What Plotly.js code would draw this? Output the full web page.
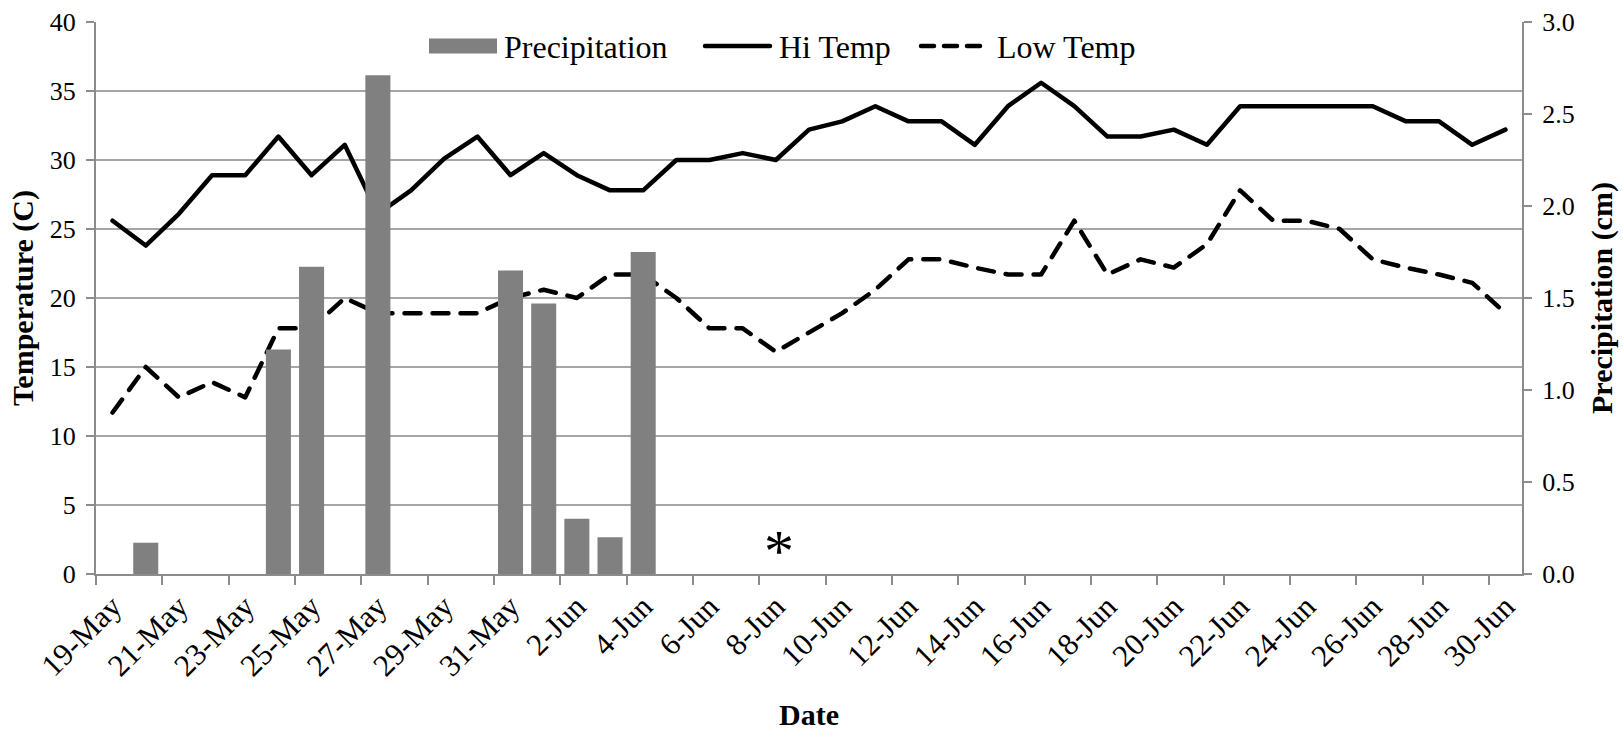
<!DOCTYPE html>
<html>
<head>
<meta charset="utf-8">
<script src="https://cdn.plot.ly/plotly-3.0.1.min.js"></script>
<style>
  html, body { margin: 0; padding: 0; background: #ffffff; }
  #chart { width: 1623px; height: 731px; }
  /* rounded dash ends on the temperature lines and key lines */
  #chart .scatterlayer path.js-line,
  #chart .shapelayer path { stroke-linecap: round; stroke-linejoin: round; }
</style>
</head>
<body>
<div id="chart"></div>
<script>
// Daily weather record, 19 May - 30 June
const dates = [
  '19-May', '20-May', '21-May', '22-May', '23-May', '24-May', '25-May',
  '26-May', '27-May', '28-May', '29-May', '30-May', '31-May',
  '1-Jun', '2-Jun', '3-Jun', '4-Jun', '5-Jun', '6-Jun', '7-Jun', '8-Jun',
  '9-Jun', '10-Jun', '11-Jun', '12-Jun', '13-Jun', '14-Jun', '15-Jun',
  '16-Jun', '17-Jun', '18-Jun', '19-Jun', '20-Jun', '21-Jun', '22-Jun',
  '23-Jun', '24-Jun', '25-Jun', '26-Jun', '27-Jun', '28-Jun', '29-Jun', '30-Jun'
];

// Daily maximum temperature (C)
const hiTemp = [
  25.6, 23.8, 26.1, 28.9, 28.9, 31.7, 28.9, 31.1, 26.1, 27.8, 30.1, 31.7, 28.9,
  30.5, 28.9, 27.8, 27.8, 30.0, 30.0, 30.5, 30.0, 32.2, 32.8, 33.9, 32.8, 32.8,
  31.1, 33.9, 35.6, 33.9, 31.7, 31.7, 32.2, 31.1, 33.9, 33.9, 33.9, 33.9, 33.9,
  32.8, 32.8, 31.1, 32.2
];

// Daily minimum temperature (C)
const lowTemp = [
  11.7, 15.0, 12.8, 13.9, 12.8, 17.8, 17.8, 20.0, 18.9, 18.9, 18.9, 18.9, 20.0,
  20.6, 20.0, 21.7, 21.7, 20.0, 17.8, 17.8, 16.1, 17.5, 18.9, 20.6, 22.8, 22.8,
  22.2, 21.7, 21.7, 25.6, 21.7, 22.8, 22.2, 23.9, 27.8, 25.6, 25.6, 25.0, 22.8,
  22.2, 21.7, 21.1, 18.9
];

// Daily precipitation (cm)
const precip = [
  0, 0.17, 0, 0, 0, 1.22, 1.67, 0, 2.71, 0, 0, 0, 1.65,
  1.47, 0.30, 0.20, 1.75, 0, 0, 0, 0, 0, 0, 0, 0, 0,
  0, 0, 0, 0, 0, 0, 0, 0, 0, 0, 0, 0, 0,
  0, 0, 0, 0
];

// Series names shown in the key
const seriesNames = ['Precipitation', 'Hi Temp', 'Low Temp'];

// Marked event
const markDate = '8-Jun';
const markText = '*';

const serif = "'Liberation Serif', 'Times New Roman', serif";
const axisGrey = '#8c8c8c';
const barGrey = '#808080';

const W = 1623, H = 731;
const M = { l: 96, r: 101, t: 22, b: 157 };
const plotW = W - M.l - M.r;
const plotH = H - M.t - M.b;
// pixel position -> paper fraction (for the key above the lines)
const px = v => (v - M.l) / plotW;
const py = v => (H - M.b - v) / plotH;

const traces = [
  {
    type: 'bar',
    name: seriesNames[0],
    x: dates,
    y: precip,
    yaxis: 'y2',
    marker: { color: barGrey, line: { width: 0 } },
    showlegend: false
  },
  {
    type: 'scatter',
    mode: 'lines',
    name: seriesNames[1],
    x: dates,
    y: hiTemp,
    line: { color: '#000000', width: 4.5 },
    showlegend: false
  },
  {
    type: 'scatter',
    mode: 'lines',
    name: seriesNames[2],
    x: dates,
    y: lowTemp,
    line: { color: '#000000', width: 4.5, dash: '16px,12px' },
    showlegend: false
  }
];

// Key: swatches as shapes, names as text
const keyY = 46;
const keyShapes = [
  { type: 'rect', xref: 'paper', yref: 'paper',
    x0: px(429), x1: px(497), y0: py(38.5), y1: py(53.5),
    fillcolor: barGrey, line: { width: 0 } },
  { type: 'line', xref: 'paper', yref: 'paper',
    x0: px(705), x1: px(770), y0: py(keyY), y1: py(keyY),
    line: { color: '#000000', width: 4.5 } },
  { type: 'line', xref: 'paper', yref: 'paper',
    x0: px(921), x1: px(982), y0: py(keyY), y1: py(keyY),
    line: { color: '#000000', width: 4.5, dash: '13px,10px' } }
];
const keyTextX = [502, 777, 995];
const keyText = seriesNames.map((name, i) => ({
  xref: 'paper', yref: 'paper',
  x: px(keyTextX[i]), y: py(keyY + 1),
  xanchor: 'left', yanchor: 'middle',
  text: name, showarrow: false,
  font: { family: serif, size: 32, color: '#000000' }
}));

const layout = {
  width: W,
  height: H,
  margin: { l: M.l, r: M.r, t: M.t, b: M.b, pad: 0 },
  paper_bgcolor: '#ffffff',
  plot_bgcolor: '#ffffff',
  font: { family: serif, color: '#000000', size: 26 },
  bargap: 0.245,
  showlegend: false,
  xaxis: {
    type: 'category',
    range: [-0.5, dates.length - 0.5],
    tickmode: 'linear',
    tick0: 0,
    dtick: 2,
    tickson: 'boundaries',
    tickangle: -45,
    ticks: 'outside',
    ticklen: 9,
    tickwidth: 2,
    tickcolor: axisGrey,
    showline: true,
    linecolor: axisGrey,
    linewidth: 2,
    showgrid: false,
    zeroline: false,
    tickfont: { family: serif, size: 31 },
    title: { text: 'Date', font: { family: serif, size: 30, weight: 'bold' }, standoff: 22 }
  },
  yaxis: {
    range: [0, 40],
    tickmode: 'linear',
    tick0: 0,
    dtick: 5,
    ticks: 'outside',
    ticklen: 8,
    tickwidth: 2,
    tickcolor: axisGrey,
    ticklabelstandoff: 5,
    showline: true,
    linecolor: axisGrey,
    linewidth: 2,
    showgrid: true,
    gridcolor: '#a6a6a6',
    gridwidth: 2,
    zeroline: false,
    tickfont: { family: serif, size: 26 },
    title: { text: 'Temperature (C)', font: { family: serif, size: 30, weight: 'bold' }, standoff: 7 }
  },
  yaxis2: {
    overlaying: 'y',
    side: 'right',
    range: [0, 3],
    tickmode: 'linear',
    tick0: 0,
    dtick: 0.5,
    tickformat: '.1f',
    ticks: 'outside',
    ticklen: 8,
    tickwidth: 2,
    tickcolor: axisGrey,
    ticklabelstandoff: 5,
    showline: true,
    linecolor: axisGrey,
    linewidth: 2,
    showgrid: false,
    zeroline: false,
    tickfont: { family: serif, size: 26 },
    title: { text: 'Precipitation (cm)', font: { family: serif, size: 30, weight: 'bold' }, standoff: 17 }
  },
  shapes: keyShapes,
  annotations: keyText.concat([
    {
      x: markDate,
      y: 2.1,
      xref: 'x',
      yref: 'y',
      text: markText,
      showarrow: false,
      font: { family: serif, size: 60, color: '#000000' },
      xanchor: 'center',
      yanchor: 'middle',
      xshift: 3,
      yshift: -6
    }
  ])
};

Plotly.newPlot('chart', traces, layout, { displayModeBar: false, staticPlot: true });
</script>
</body>
</html>
